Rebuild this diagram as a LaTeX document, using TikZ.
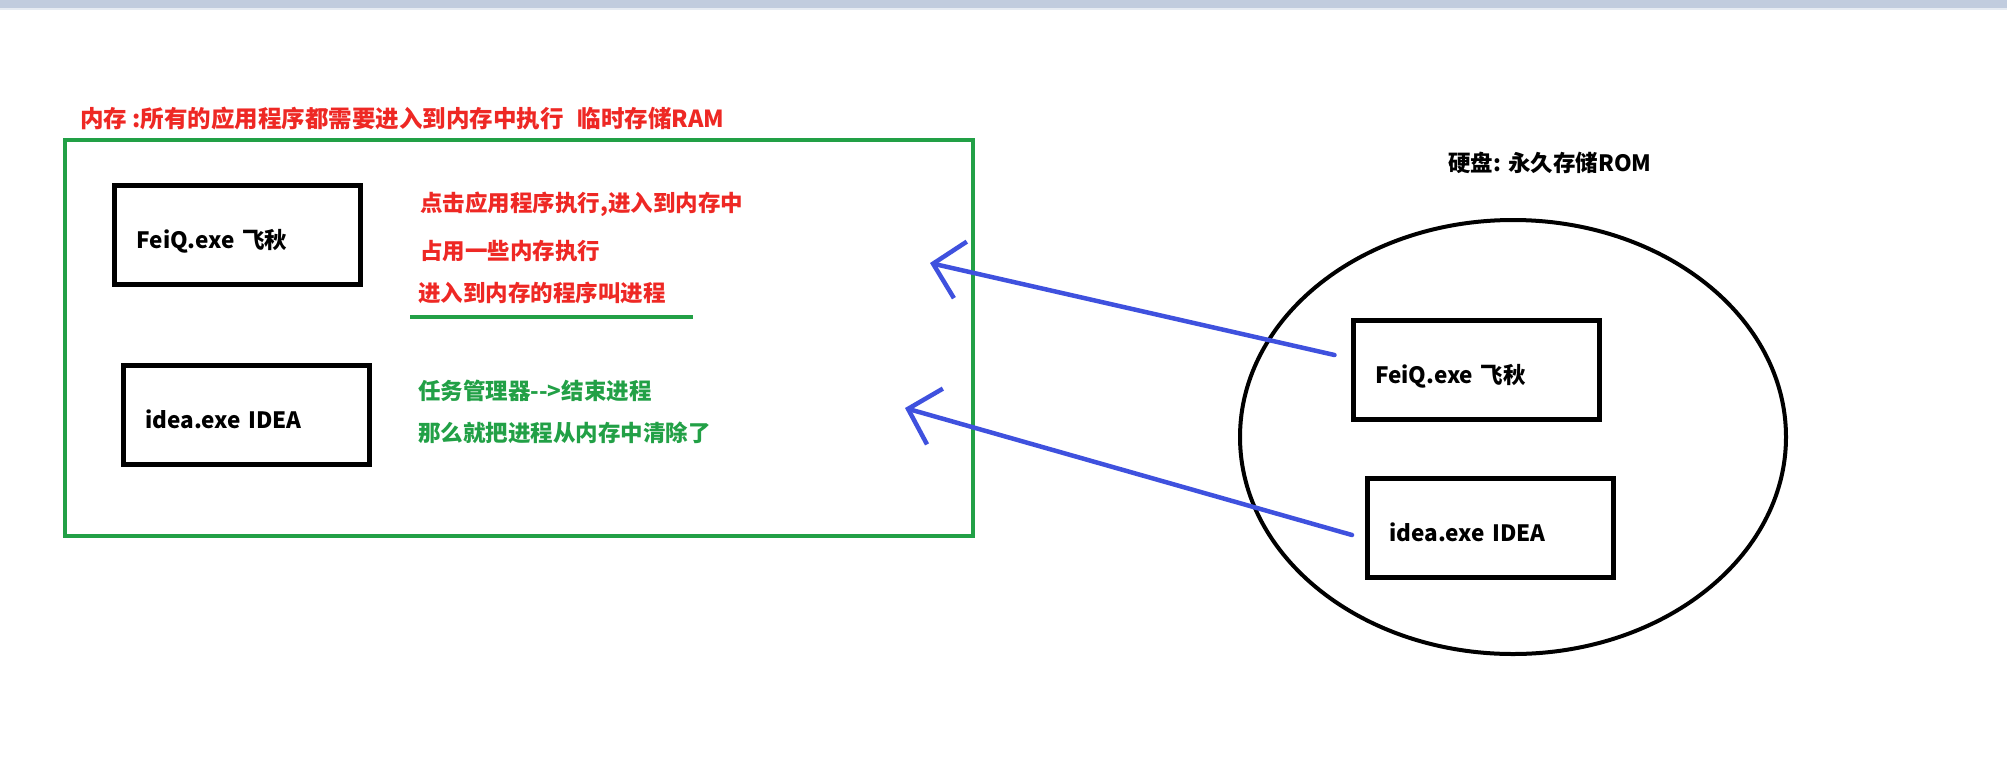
\documentclass[tikz,border=0pt]{standalone}
\usepackage{fontspec}
\setmainfont{Noto Sans CJK SC}
\usepackage{xcolor}
\usetikzlibrary{shapes.geometric,arrows.meta,positioning}

\definecolor{memred}{RGB}{238,40,36}
\definecolor{memgreen}{RGB}{34,160,70}
\definecolor{arrblue}{RGB}{63,81,222}
\definecolor{barblue}{RGB}{193,204,222}

\begin{document}
\begin{tikzpicture}[
  x=1pt, y=-1pt,
  font=\fontsize{22.5}{27}\selectfont\bfseries,
  pbox/.style={draw, line width=5pt, minimum height=99pt, inner xsep=22pt,
               text width=202pt, align=left, text height=26pt, text depth=0pt},
  redtxt/.style={text=memred, anchor=west, inner sep=0pt},
  greentxt/.style={text=memgreen, anchor=west, inner sep=0pt},
  arr/.style={-{Straight Barb[length=28pt, width=58pt]}, line width=4.5pt,
              draw=arrblue, line cap=round, line join=round},
]
\useasboundingbox (0,0) rectangle (2007,761);

%% --- Leiste oben ---
\fill[barblue] (0,0) rectangle (2007,8);
\fill[barblue!40] (0,8) rectangle (2007,10);

%% --- Arbeitsspeicher ---
\node[draw=memgreen, line width=4pt, minimum width=908pt, minimum height=396pt]
      (ram) at (519,338) {};
\node[redtxt, font=\fontsize{23.5}{28}\selectfont\bfseries] (ramtitle) at (80,119)
      {内存 :所有的应用程序都需要进入到内存中执行\hspace{14pt}临时存储RAM};

\node[pbox] (feiqL) at (237.5,235) {FeiQ.exe 飞秋};
\node[pbox] (ideaL) at (246.5,415) {idea.exe IDEA};

\node[redtxt] (r1) at (420,204) {点击应用程序执行,进入到内存中};
\node[redtxt] (r2) at (420,251) {占用一些内存执行};
\node[redtxt] (r3) at (418,293) {进入到内存的程序叫进程};
\draw[memgreen, line width=4pt] (410,317) -- (693,317);

\node[greentxt] (g1) at (418,391) {任务管理器{-}{-}>结束进程};
\node[greentxt] (g2) at (418,433) {那么就把进程从内存中清除了};

%% --- Festplatte ---
\node[draw, ellipse, line width=4pt, minimum width=546pt, minimum height=434pt,
      inner sep=0pt] (disk) at (1513,437) {};
\node[inner sep=0pt] (disklabel) at (1550,163) {硬盘: 永久存储ROM};

\node[pbox] (feiqR) at (1476,370) {FeiQ.exe 飞秋};
\node[pbox] (ideaR) at (1490.5,528) {idea.exe IDEA};

%% --- Pfeile ---
\coordinate (tipA) at (930,263);
\coordinate (tipB) at (905,408);
\draw[arr] ([xshift=-16pt, yshift=15pt]feiqR.west) -- (tipA);
\draw[arr] ([xshift=-13pt, yshift=-7pt]ideaR.west) -- (tipB);

\end{tikzpicture}
\end{document}
